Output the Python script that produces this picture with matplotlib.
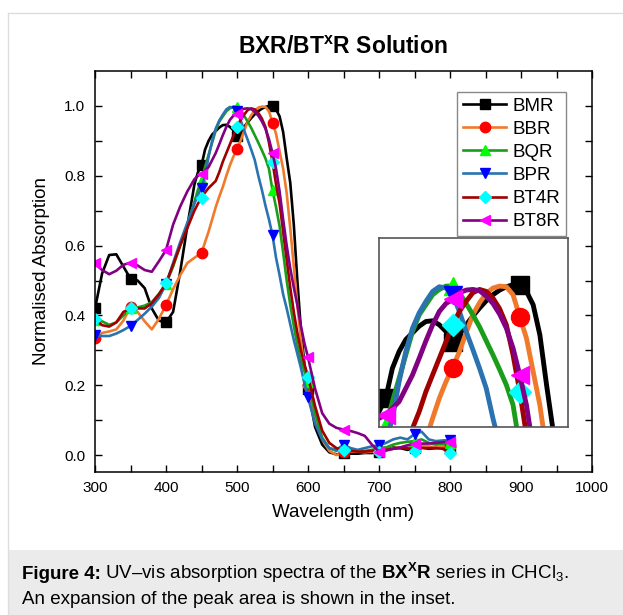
import numpy as np
import matplotlib
matplotlib.use('Agg')
import matplotlib.pyplot as plt
from matplotlib.patches import Rectangle
from matplotlib.lines import Line2D

plt.rcParams['font.family'] = 'Liberation Sans'
plt.rcParams['mathtext.fontset'] = 'custom'
plt.rcParams['mathtext.rm'] = 'Liberation Sans'
plt.rcParams['mathtext.bf'] = 'Liberation Sans:bold'
plt.rcParams['mathtext.it'] = 'Liberation Sans:italic'

# wavelength grid (nm): 10 nm steps, 5 nm around the main band
wl = np.concatenate([np.arange(300, 440, 10), np.arange(440, 600, 5), np.arange(600, 801, 10)])

bmr = [0.42, 0.52, 0.573, 0.575, 0.54, 0.505, 0.50, 0.478, 0.42, 0.385, 0.38, 0.41, 0.525, 0.655,
       0.775, 0.81, 0.83, 0.875, 0.90, 0.918, 0.928, 0.938, 0.945, 0.946, 0.94, 0.93, 0.915, 0.925,
       0.94, 0.953, 0.965, 0.976, 0.985, 0.992, 0.997, 1.0, 1.0, 0.99, 0.97, 0.925, 0.85, 0.78,
       0.66, 0.50, 0.36, 0.26,
       0.19, 0.08, 0.03, 0.008, 0.002, 0.005, 0.004, 0.004, 0.006, 0.006, 0.008, 0.015, 0.022,
       0.02, 0.015, 0.02, 0.022, 0.018, 0.02, 0.022, 0.02]
bbr = [0.334, 0.35, 0.354, 0.36, 0.385, 0.425, 0.41, 0.383, 0.36, 0.39, 0.43, 0.475, 0.515, 0.55,
       0.565, 0.572, 0.578, 0.61, 0.64, 0.675, 0.71, 0.74, 0.768, 0.80, 0.83, 0.855, 0.876, 0.90,
       0.928, 0.955, 0.973, 0.987, 0.995, 0.998, 0.997, 0.985, 0.952, 0.92, 0.87, 0.82, 0.75, 0.65,
       0.54, 0.43, 0.33, 0.25,
       0.20, 0.10, 0.045, 0.012, 0.0, 0.008, 0.01, 0.01, 0.008, 0.01, 0.012, 0.015, 0.02,
       0.022, 0.02, 0.025, 0.028, 0.025, 0.022, 0.025, 0.025]
bqr = [0.387, 0.383, 0.373, 0.38, 0.40, 0.42, 0.423, 0.428, 0.438, 0.462, 0.49, 0.54, 0.60, 0.66,
       0.725, 0.76, 0.788, 0.825, 0.86, 0.895, 0.93, 0.955, 0.97, 0.985, 0.993, 0.998, 0.998, 0.988,
       0.972, 0.955, 0.937, 0.916, 0.895, 0.873, 0.85, 0.82, 0.758, 0.71, 0.655, 0.58, 0.50, 0.43,
       0.37, 0.315, 0.27, 0.24,
       0.21, 0.12, 0.05, 0.02, 0.012, 0.025, 0.015, 0.012, 0.012, 0.015, 0.02, 0.022, 0.03,
       0.035, 0.038, 0.04, 0.045, 0.035, 0.03, 0.032, 0.035]
bpr = [0.344, 0.341, 0.341, 0.348, 0.358, 0.37, 0.387, 0.405, 0.425, 0.45, 0.49, 0.55, 0.61, 0.665,
       0.72, 0.745, 0.765, 0.80, 0.855, 0.90, 0.935, 0.958, 0.975, 0.99, 0.997, 0.995, 0.985, 0.96,
       0.93, 0.903, 0.875, 0.845, 0.80, 0.76, 0.715, 0.675, 0.63, 0.565, 0.515, 0.46, 0.42, 0.375,
       0.33, 0.29, 0.25, 0.205,
       0.165, 0.09, 0.045, 0.02, 0.015, 0.03, 0.02, 0.015, 0.02, 0.025, 0.028, 0.035, 0.045,
       0.05, 0.045, 0.06, 0.067, 0.045, 0.04, 0.042, 0.043]
bt4r = [0.39, 0.372, 0.368, 0.38, 0.41, 0.42, 0.42, 0.42, 0.435, 0.46, 0.492, 0.545, 0.60, 0.65,
        0.70, 0.72, 0.737, 0.752, 0.765, 0.775, 0.785, 0.81, 0.84, 0.865, 0.89, 0.915, 0.94, 0.96,
        0.975, 0.988, 0.993, 0.99, 0.98, 0.964, 0.94, 0.895, 0.84, 0.775, 0.72, 0.64, 0.56, 0.48,
        0.41, 0.35, 0.30, 0.26,
        0.225, 0.14, 0.07, 0.035, 0.02, 0.014, 0.012, 0.01, 0.01, 0.012, 0.01, 0.015, 0.018,
        0.02, 0.02, 0.012, 0.02, 0.02, 0.02, 0.018, 0.005]
bt8r = [0.549, 0.53, 0.518, 0.528, 0.545, 0.551, 0.543, 0.53, 0.525, 0.555, 0.587, 0.66, 0.712, 0.755,
        0.79, 0.80, 0.805, 0.815, 0.825, 0.845, 0.865, 0.89, 0.916, 0.94, 0.96, 0.972, 0.978, 0.988,
        0.992, 0.993, 0.991, 0.983, 0.972, 0.956, 0.935, 0.905, 0.865, 0.82, 0.755, 0.675, 0.60, 0.535,
        0.48, 0.43, 0.37, 0.32,
        0.28, 0.19, 0.12, 0.09, 0.078, 0.073, 0.069, 0.063, 0.055, 0.03, 0.01, 0.013, 0.018,
        0.022, 0.028, 0.033, 0.033, 0.033, 0.035, 0.037, 0.038]

names = ['BMR', 'BBR', 'BQR', 'BPR', 'BT4R', 'BT8R']
spectra = [bmr, bbr, bqr, bpr, bt4r, bt8r]
line_colors = ['#000000', '#f07a2c', '#1a9e1a', '#2a72b0', '#a00000', '#820082']
marker_colors = ['#000000', '#ff0000', '#00ff00', '#0000ff', '#00ffff', '#ff00ff']
markers = ['s', 'o', '^', 'v', 'D', '<']

# symbols every 50 nm, as in the original
mark_idx = list(np.where(wl % 50 == 0)[0])


def draw(ax, lw, ms):
    for name, y, lc, mc, m in zip(names, spectra, line_colors, marker_colors, markers):
        size = ms * 0.85 if m == 'D' else ms
        ax.plot(wl, y, color=lc, lw=lw, marker=m, ms=size, mfc=mc, mec=mc,
                markevery=mark_idx, label=name, solid_joinstyle='round')


W, H = 623, 615
fig = plt.figure(figsize=(W / 100, H / 100), dpi=100)

# page frame and caption box
fig.add_artist(Line2D([8 / W, 1], [1 - 13 / H, 1 - 13 / H], color='#dddddd', lw=1))
fig.add_artist(Line2D([8 / W, 8 / W], [0, 1 - 13 / H], color='#dddddd', lw=1))
fig.add_artist(Rectangle((8 / W, 0), 1, 65 / H, transform=fig.transFigure,
                         facecolor='#ebebeb', edgecolor='none'))

# main plot
ax = fig.add_axes([95 / W, 1 - 471.5 / H, 497 / W, 400.5 / H])
draw(ax, 1.9, 7.5)
ax.set_xlim(300, 1000)
ax.set_ylim(-0.047, 1.10)
ax.set_xticks(np.arange(300, 1001, 100))
ax.set_xticks(np.arange(300, 1001, 50), minor=True)
ax.set_yticks(np.arange(0, 1.01, 0.2))
ax.set_yticks(np.arange(0, 1.05, 0.1), minor=True)
ax.set_yticklabels(['0.0', '0.2', '0.4', '0.6', '0.8', '1.0'])
ax.tick_params(which='both', direction='in', top=True, right=True,
               length=5, width=1, labelsize=11, pad=7)
for s in ax.spines.values():
    s.set_linewidth(1.1)
ax.set_xlabel('Wavelength (nm)', fontsize=13.5, labelpad=6)
ax.set_ylabel('Normalised Absorption', fontsize=13.5, labelpad=10)

leg = ax.legend(loc='upper right', bbox_to_anchor=(0.948, 0.948), fontsize=13.5,
                fancybox=False, edgecolor='#888888', framealpha=1,
                handlelength=2.3, handletextpad=0.35, labelspacing=0.32,
                borderpad=0.3, borderaxespad=0)
leg.get_frame().set_linewidth(1.0)

# inset with the peak region
axin = fig.add_axes([379 / W, 1 - 427 / H, 189 / W, 189 / H])
draw(axin, 3.5, 13)
axin.set_xlim(445, 586)
axin.set_ylim(0.787, 1.07)
axin.set_xticks([])
axin.set_yticks([])
for s in axin.spines.values():
    s.set_color('#555555')
    s.set_linewidth(1.2)

fig.text(343 / W, 1 - 47 / H, r'BXR/BT$^{\mathbf{x}}$R Solution', ha='center',
         va='center', fontsize=16.5, fontweight='bold')

# caption: bold label, then the rest placed right after it
cap = fig.text(22 / W, 1 - 579 / H, 'Figure 4:', ha='left', va='baseline',
               fontsize=13.5, fontweight='bold')
fig.canvas.draw()
bb = cap.get_window_extent()
fig.text((bb.x1 + 4) / W, 1 - 579 / H,
         r'UV–vis absorption spectra of the $\mathbf{BX^{X}R}$ series in CHCl$_3$.',
         ha='left', va='baseline', fontsize=13.5)
fig.text(22 / W, 1 - 604 / H, 'An expansion of the peak area is shown in the inset.',
         ha='left', va='baseline', fontsize=13.5)

fig.savefig('out.png', dpi=100)
